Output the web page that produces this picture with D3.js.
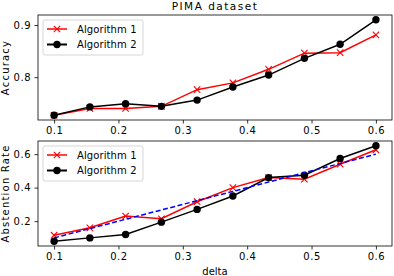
<!DOCTYPE html>
<html>
<head>
<meta charset="utf-8">
<script src="https://cdn.jsdelivr.net/npm/d3@7"></script>
<style>
  body { margin: 0; background: #fff; }
  svg { display: block; font-family: "DejaVu Sans", sans-serif; }
</style>
</head>
<body>
<svg id="chart" width="394" height="276"></svg>
<script>
// delta values (x axis)
const delta = [0.1, 0.1556, 0.2111, 0.2667, 0.3222, 0.3778, 0.4333, 0.4889, 0.5444, 0.6];
const xTicks = [0.1, 0.2, 0.3, 0.4, 0.5, 0.6];

// top panel: accuracy
const accAlg1 = [0.727, 0.740, 0.740, 0.744, 0.776, 0.789, 0.815, 0.846, 0.847, 0.881];
const accAlg2 = [0.727, 0.743, 0.749, 0.744, 0.756, 0.781, 0.804, 0.836, 0.863, 0.910];
const accTicks = [0.8, 0.9];

// bottom panel: abstention rate
const absAlg1 = [0.116, 0.160, 0.230, 0.214, 0.316, 0.400, 0.460, 0.450, 0.540, 0.626];
const absAlg2 = [0.080, 0.100, 0.120, 0.194, 0.270, 0.350, 0.460, 0.474, 0.574, 0.650];
const absTarget = delta; // dashed reference line
const absTicks = [0.2, 0.4, 0.6];

const seriesNames = ["Algorithm 1", "Algorithm 2"];

const svg = d3.select("#chart");
const left = 38, right = 392;

const x = d3.scaleLinear().domain([0.075, 0.625]).range([left, right]);

function pad(vals) {
	const lo = d3.min(vals), hi = d3.max(vals);
	const m = (hi - lo) * 0.05;
	return [lo - m, hi + m];
}

function redX(g, cx, cy) {
	const s = 3.2;
	g.append("path")
		.attr("d", `M${cx - s},${cy - s}L${cx + s},${cy + s}M${cx - s},${cy + s}L${cx + s},${cy - s}`)
		.attr("stroke", "red").attr("stroke-width", 1.1).attr("fill", "none");
}

function panel(top, bottom, a1, a2, ticks, ylabel, ref) {
	const g = svg.append("g");
	const y = d3.scaleLinear().domain(pad(a1.concat(a2))).range([bottom, top]);

	const line = d3.line().x((d, i) => x(delta[i])).y(d => y(d));

	g.append("path").datum(a1).attr("d", line)
		.attr("fill", "none").attr("stroke", "red").attr("stroke-width", 1.5);
	a1.forEach((v, i) => redX(g, x(delta[i]), y(v)));

	g.append("path").datum(a2).attr("d", line)
		.attr("fill", "none").attr("stroke", "black").attr("stroke-width", 1.5);
	g.selectAll("circle.a2").data(a2).enter().append("circle")
		.attr("cx", (d, i) => x(delta[i])).attr("cy", d => y(d))
		.attr("r", 3.7).attr("fill", "black");

	if (ref) {
		g.append("path").datum(ref).attr("d", line)
			.attr("fill", "none").attr("stroke", "blue").attr("stroke-width", 1.5)
			.attr("stroke-dasharray", "5,2.5");
	}

	// axes
	const xa = g.append("g").attr("transform", `translate(0,${bottom})`)
		.call(d3.axisBottom(x).tickValues(xTicks).tickSize(3.5).tickPadding(3.5).tickFormat(d3.format(".1f")));
	const ya = g.append("g").attr("transform", `translate(${left},0)`)
		.call(d3.axisLeft(y).tickValues(ticks).tickSize(3.5).tickPadding(3.5).tickFormat(d3.format(".1f")));
	[xa, ya].forEach(a => {
		a.select(".domain").remove();
		a.selectAll("line").attr("stroke", "black").attr("stroke-width", 0.8);
		a.selectAll("text").attr("font-size", 10).attr("fill", "black")
			.attr("letter-spacing", 0.5)
			.attr("font-family", "DejaVu Sans, sans-serif");
	});

	g.append("rect").attr("x", left).attr("y", top)
		.attr("width", right - left).attr("height", bottom - top)
		.attr("fill", "none").attr("stroke", "black").attr("stroke-width", 0.8);

	g.append("text")
		.attr("transform", `translate(8.5,${(top + bottom) / 2}) rotate(-90)`)
		.attr("text-anchor", "middle").attr("font-size", 10)
		.attr("letter-spacing", 1.2).text(ylabel);

	// legend
	const lg = g.append("g").attr("transform", `translate(43,${top + 5})`);
	lg.append("rect").attr("width", 100).attr("height", 35).attr("rx", 2)
		.attr("fill", "white").attr("fill-opacity", 0.8)
		.attr("stroke", "#cccccc").attr("stroke-width", 0.8);
	seriesNames.forEach((name, i) => {
		const cy = 9 + i * 15.5;
		if (i === 0) {
			lg.append("line").attr("x1", 4).attr("x2", 24).attr("y1", cy).attr("y2", cy)
				.attr("stroke", "red").attr("stroke-width", 1.5);
			redX(lg, 14, cy);
		} else {
			lg.append("line").attr("x1", 4).attr("x2", 24).attr("y1", cy).attr("y2", cy)
				.attr("stroke", "black").attr("stroke-width", 2);
			lg.append("circle").attr("cx", 14).attr("cy", cy).attr("r", 3.7).attr("fill", "black");
		}
		lg.append("text").attr("x", 34).attr("y", cy + 3.6)
			.attr("font-size", 10).attr("letter-spacing", 0.1).text(name);
	});
	return g;
}

panel(15, 120, accAlg1, accAlg2, accTicks, "Accuracy", null);
panel(141, 246, absAlg1, absAlg2, absTicks, "Abstention Rate", absTarget);

svg.append("text").attr("x", (left + right) / 2).attr("y", 10)
	.attr("text-anchor", "middle").attr("font-size", 10.5)
	.attr("letter-spacing", 1.5).text("PIMA dataset");

svg.append("text").attr("x", (left + right) / 2).attr("y", 275)
	.attr("text-anchor", "middle").attr("font-size", 10).text("delta");
</script>
</body>
</html>
